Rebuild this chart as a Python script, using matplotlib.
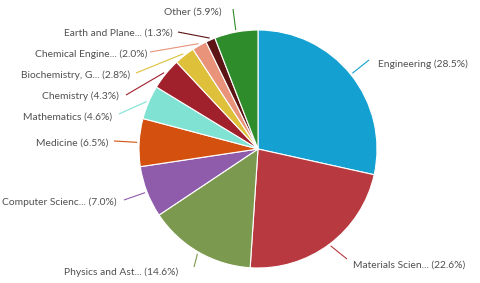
import numpy as np
import matplotlib.pyplot as plt

labels = ['Engineering', 'Materials Scien...', 'Physics and Ast...', 'Computer Scienc...',
          'Medicine', 'Mathematics', 'Chemistry', 'Biochemistry, G...',
          'Chemical Engine...', 'Earth and Plane...', 'Other']
shares = [28.5, 22.6, 14.6, 7.0, 6.5, 4.6, 4.3, 2.8, 2.0, 1.3, 5.9]
colors = ['#15a0d2', '#b83a40', '#7b9a50', '#8f5cac', '#d4500f', '#80e2d2',
          '#a0202c', '#dfc03a', '#e8937a', '#5c1414', '#2f8c2a']

# leader line ends and text anchors in image pixels (y from top)
line_ends = [(369, 60), (347, 259), (194, 267), (124, 200), (114, 141), (119, 114),
             (126, 95), (136, 73), (150, 52), (178, 32), (233, 9)]
text_pos = [(378, 64, 'left'), (353, 265, 'left'), (178, 272, 'right'),
            (117, 202, 'right'), (108, 143, 'right'), (112, 117, 'right'),
            (119, 96, 'right'), (130, 75, 'right'), (147, 54, 'right'),
            (173, 33, 'right'), (222, 12, 'right')]
H = 283

fig = plt.figure(figsize=(4.8, 2.83), dpi=100)
ax = fig.add_axes([0, 0, 1, 1])

cx, cy, r = 258, H - 149, 119
wedges, _ = ax.pie(shares, colors=colors, startangle=90, counterclock=False,
                   center=(cx, cy), radius=r, frame=True,
                   wedgeprops=dict(edgecolor='white', linewidth=0.8))
ax.set_xlim(0, 480)
ax.set_ylim(0, H)
ax.set_aspect('equal')
ax.axis('off')

for w, lab, val, col, (ex, ey), (tx, ty, ha) in zip(wedges, labels, shares, colors,
                                                     line_ends, text_pos):
    mid = np.deg2rad((w.theta1 + w.theta2) / 2)
    sx, sy = cx + (r + 2) * np.cos(mid), cy + (r + 2) * np.sin(mid)
    ax.plot([sx, ex], [sy, H - ey], color=col, lw=0.8, solid_capstyle='butt')
    ax.text(tx, H - ty, f'{lab} ({val:.1f}%)', ha=ha, va='center', fontsize=7.4,
            family='Lato', color='#505050')

fig.savefig('out.png', dpi=100)
